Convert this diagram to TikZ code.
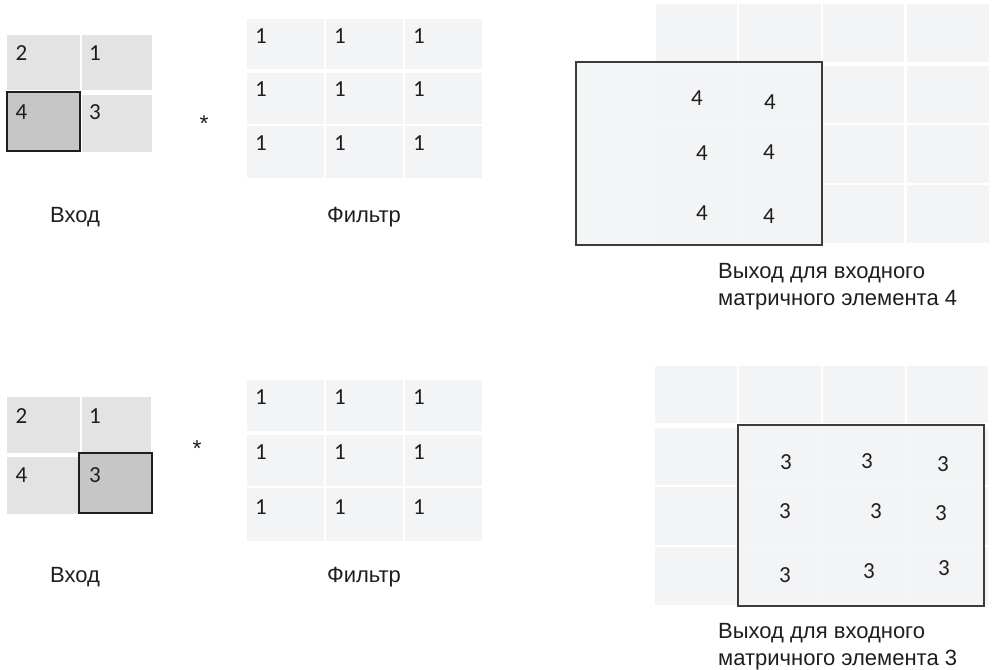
\documentclass[tikz,border=0pt]{standalone}
\usepackage{fontspec}
\newfontfamily\lblfam{Liberation Sans}
\newfontfamily\numfam{Carlito}
\newcommand\lblfnt{\lblfam\fontsize{22}{27}\selectfont}
\newcommand\numfnt{\numfam\fontsize{23}{27}\selectfont}
\newcommand\starfnt{\lblfam\fontsize{23}{27}\selectfont}
\definecolor{ink}{HTML}{1E1E1E}
\definecolor{ingray}{HTML}{E3E3E3}
\definecolor{selgray}{HTML}{C5C6C5}
\definecolor{pale}{HTML}{F3F4F6}
\definecolor{boxline}{HTML}{3C3C3C}
\tikzset{
  incell/.style={fill=ingray},
  selcell/.style={fill=selgray, draw=ink, line width=1.4pt},
  palecell/.style={fill=pale},
  outbox/.style={fill=pale, fill opacity=0.9, draw=boxline, line width=1.4pt},
  digit/.style={font=\numfnt, text=ink, inner sep=0pt},
  star/.style={font=\starfnt, text=ink, inner sep=0pt, anchor=base},
  caption/.style={font=\lblfnt, text=ink, inner sep=0pt, anchor=base},
  capleft/.style={font=\lblfnt, text=ink, inner sep=0pt, anchor=base west},
}
\begin{document}
\begin{tikzpicture}[x=1pt,y=-1pt]
\useasboundingbox (0,0) rectangle (992,669);

% ---------- first row: input element 4 ----------
% input 2x2
\fill[incell] (7,35) rectangle (80,90);
\fill[incell] (82,35) rectangle (152,90);
\fill[incell] (82,95) rectangle (152,152);
\draw[selcell] (7,92) rectangle (80,151);
\node[digit] (ta2) at (21.5,53) {2};
\node[digit] (ta1) at (95,53) {1};
\node[digit] (ta4) at (21.5,112) {4};
\node[digit] (ta3) at (95,112) {3};
\node[star] (tstar) at (204,131) {*};

% filter 3x3
\foreach \xa/\xb in {247/324,326/403,405/482}
  \foreach \ya/\yb in {19/69,73/124,126/178}
    \fill[palecell] (\xa,\ya) rectangle (\xb,\yb);
\foreach \x [count=\i] in {261,340,419}
  \foreach \y [count=\j] in {36,89,143}
    \node[digit] (tf\i\j) at (\x,\y) {1};

% output 4x4 with the filter window
\foreach \xa/\xb in {656/737,739/821,823/904,907/989}
  \foreach \ya/\yb in {4/62,66/123,125/183,185/243}
    \fill[palecell] (\xa,\ya) rectangle (\xb,\yb);
\draw[outbox] (576,62) rectangle (822,245);
\node[digit] (to1) at (697,98) {4};
\node[digit] (to2) at (770,102) {4};
\node[digit] (to3) at (702,153) {4};
\node[digit] (to4) at (769,152) {4};
\node[digit] (to5) at (702,213) {4};
\node[digit] (to6) at (769,216) {4};

\node[caption] (tin) at (75,222) {Вход};
\node[caption] (tfl) at (364,222) {Фильтр};
\node[capleft] (tout1) at (718,278) {Выход для входного};
\node[capleft] (tout2) at (718,305) {матричного элемента 4};

% ---------- second row: input element 3 ----------
\fill[incell] (7,397) rectangle (80,453);
\fill[incell] (82,397) rectangle (151,453);
\fill[incell] (7,457) rectangle (80,514);
\draw[selcell] (79,453) rectangle (152,513);
\node[digit] (ba2) at (21.5,416) {2};
\node[digit] (ba1) at (95,416) {1};
\node[digit] (ba4) at (21.5,475) {4};
\node[digit] (ba3) at (95,475) {3};
\node[star] (bstar) at (197,456) {*};

\foreach \xa/\xb in {247/324,326/403,405/482}
  \foreach \ya/\yb in {380/431,435/486,488/541}
    \fill[palecell] (\xa,\ya) rectangle (\xb,\yb);
\foreach \x [count=\i] in {261,340,419}
  \foreach \y [count=\j] in {397,452,507}
    \node[digit] (bf\i\j) at (\x,\y) {1};

\foreach \xa/\xb in {655/737,739/821,823/905,907/988}
  \foreach \ya/\yb in {366/423,428/485,487/545,547/605}
    \fill[palecell] (\xa,\ya) rectangle (\xb,\yb);
\draw[outbox] (738,425) rectangle (984,606);
\node[digit] (bo1) at (786,462) {3};
\node[digit] (bo2) at (867,461) {3};
\node[digit] (bo3) at (943,464) {3};
\node[digit] (bo4) at (785,511) {3};
\node[digit] (bo5) at (876,511) {3};
\node[digit] (bo6) at (941,513) {3};
\node[digit] (bo7) at (785,575) {3};
\node[digit] (bo8) at (869,571) {3};
\node[digit] (bo9) at (944,568) {3};

\node[caption] (bin) at (75,582) {Вход};
\node[caption] (bfl) at (364,582) {Фильтр};
\node[capleft] (bout1) at (718,638) {Выход для входного};
\node[capleft] (bout2) at (718,665) {матричного элемента 3};
\end{tikzpicture}
\end{document}
